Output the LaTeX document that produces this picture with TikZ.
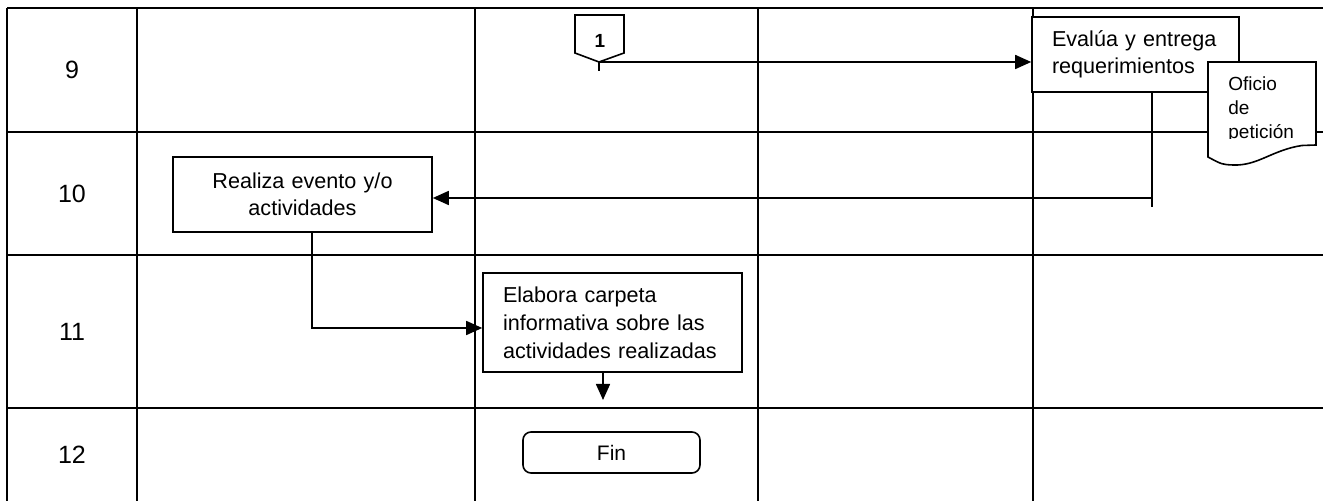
\documentclass[tikz,border=0pt]{standalone}
\usepackage{fontspec}
\setmainfont{Liberation Sans}
\usetikzlibrary{arrows.meta}

\tikzset{
  grid/.style={line width=1.3pt},
  proc/.style={draw, fill=white, line width=0.8pt, inner sep=0pt,
    font=\fontsize{10.8}{13.5}\selectfont},
  flow/.style={line width=0.8pt, -{Triangle[length=8pt,width=7pt]}},
  rowlbl/.style={font=\fontsize{12.5}{14}\selectfont}
}

\begin{document}
\begin{tikzpicture}[x=0.5pt,y=-0.5pt]
\useasboundingbox (0,0) rectangle (1323,501);
\pgfmathsetmacro{\L}{7}
\pgfmathsetmacro{\T}{8}

% swimlane table
\foreach \x in {7,137,475,758,1033} {
  \draw[grid] (\x,\T) -- (\x,501);
}
\foreach \y in {8,132,255,408} {
  \draw[grid] (\L,\y) -- (1323,\y);
}
\node[rowlbl] (r9) at (72,70) {9};
\node[rowlbl] (r10) at (72,194) {10};
\node[rowlbl] (r11) at (72,332) {11};
\node[rowlbl] (r12) at (72,455) {12};

% off-page connector
\draw[line width=0.8pt] (575,15) -- (624,15) -- (624,53) -- (599,62) -- (575,53) -- cycle;
\node[font=\fontsize{9.5}{11}\selectfont\bfseries] (one) at (600,41) {1};
\coordinate (conntip) at (599,62);
\draw[line width=0.8pt] (conntip) -- ++(0,9);

% boxes
\node[proc, minimum width=103.5pt, minimum height=37.5pt, text width=83.5pt, align=left]
  (evalua) at (1135.5,54.5) {Evalúa y entrega\\requerimientos};
\node[proc, minimum width=129.5pt, minimum height=37.5pt, text width=110pt, align=center]
  (realiza) at (302.5,194.5) {Realiza evento y/o\\actividades};
\node[proc, minimum width=129.5pt, minimum height=49.5pt, text width=109.5pt, align=left,
  font=\fontsize{10.8}{14}\selectfont]
  (elabora) at (612.5,322.5) {Elabora carpeta\\informativa sobre las\\actividades realizadas};
\node[proc, rounded corners=4pt, minimum width=88.5pt, minimum height=20.5pt,
  font=\fontsize{10.5}{12}\selectfont]
  (fin) at (611.5,452.5) {Fin};

% document
\draw[fill=white, line width=0.8pt] (1208,62) -- (1316,62) -- (1316,145) -- (1302,145.5)
  .. controls (1272,150) and (1258,166) .. (1233,165)
  .. controls (1222,164.5) .. (1208,157) -- cycle;
\begin{scope}
  \clip (1209,63) rectangle (1315,139);
  \node[anchor=north west, inner sep=0pt, text width=45pt, align=left,
    font=\fontsize{9.5}{12}\selectfont] (oficio) at (1228,76) {Oficio\\de\\petición};
\end{scope}

% connectors
\coordinate (turn) at (1152,198);
\coordinate (stub) at (1152,207);
\coordinate (bend) at (312,328);
\coordinate (drop) at (603,400);
\draw[flow] (conntip) -- (conntip -| evalua.west);
\draw[line width=0.8pt] (evalua.south -| stub) -- (stub);
\draw[flow] (turn) -- (turn -| realiza.east);
\draw[flow] (realiza.south -| bend) -- (bend) -- (bend -| elabora.west);
\draw[flow] (elabora.south -| drop) -- (drop);
\end{tikzpicture}
\end{document}
